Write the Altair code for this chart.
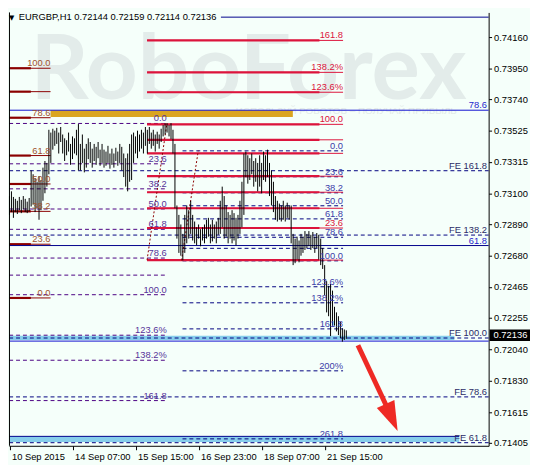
import altair as alt
import pandas as pd

# ---------------- data ----------------
# EURGBP H1 bars, bar index 0 = first bar at "10 Sep 2015" label
bar_high = [0.73082, 0.73114, 0.73076, 0.73063, 0.73050, 0.73076, 0.73056, 0.73082, 0.73063, 0.73044,
            0.73069, 0.73256, 0.73230, 0.73204, 0.73179, 0.73217, 0.73191, 0.73275, 0.73320, 0.73307,
            0.73532, 0.73513, 0.73539, 0.73526, 0.73545, 0.73513, 0.73551, 0.73500, 0.73474, 0.73461,
            0.73513, 0.73436, 0.73487, 0.73474, 0.73532, 0.73571, 0.73436, 0.73500, 0.73404, 0.73436,
            0.73474, 0.73449, 0.73404, 0.73436, 0.73416, 0.73449, 0.73397, 0.73436, 0.73397, 0.73384,
            0.73423, 0.73371, 0.73404, 0.73371, 0.73410, 0.73384, 0.73436, 0.73416, 0.73371, 0.73339,
            0.73371, 0.73436, 0.73500, 0.73513, 0.73487, 0.73526, 0.73500, 0.73532, 0.73513, 0.73551,
            0.73532, 0.73551, 0.73513, 0.73532, 0.73500, 0.73519, 0.73500, 0.73539, 0.73564, 0.73577,
            0.73577, 0.73564, 0.73577, 0.73532, 0.73436, 0.73018, 0.72954, 0.72889, 0.72825, 0.72954,
            0.73018, 0.72986, 0.73050, 0.72954, 0.72909, 0.72870, 0.72889, 0.72857, 0.72870, 0.72889,
            0.72921, 0.72934, 0.72889, 0.72921, 0.72889, 0.72909, 0.72934, 0.73050, 0.73146, 0.73082,
            0.73018, 0.72973, 0.72954, 0.72986, 0.72966, 0.72934, 0.72954, 0.73050, 0.73179, 0.73371,
            0.73384, 0.73359, 0.73339, 0.73371, 0.73320, 0.73339, 0.73307, 0.73359, 0.73307, 0.73384,
            0.73359, 0.73397, 0.73307, 0.73256, 0.73179, 0.73082, 0.73050, 0.73031, 0.73018, 0.73050,
            0.73018, 0.73037, 0.73018, 0.73018, 0.72825, 0.72793, 0.72806, 0.72780, 0.72825, 0.72806,
            0.72844, 0.72825, 0.72844, 0.72819, 0.72838, 0.72806, 0.72831, 0.72819, 0.72793, 0.72729,
            0.72613, 0.72504, 0.72472, 0.72485, 0.72440, 0.72330, 0.72292, 0.72266, 0.72228, 0.72183,
            0.72176, 0.72170]
bar_low = [0.72954, 0.72973, 0.72934, 0.72973, 0.72960, 0.72986, 0.72966, 0.72992, 0.72973, 0.72966,
           0.72979, 0.73011, 0.73024, 0.72973, 0.72999, 0.72921, 0.72986, 0.73050, 0.73101, 0.73146,
           0.73230, 0.73307, 0.73397, 0.73423, 0.73436, 0.73371, 0.73449, 0.73371, 0.73320, 0.73359,
           0.73384, 0.73294, 0.73333, 0.73371, 0.73359, 0.73256, 0.73256, 0.73307, 0.73243, 0.73275,
           0.73333, 0.73307, 0.73275, 0.73320, 0.73294, 0.73339, 0.73288, 0.73307, 0.73275, 0.73288,
           0.73307, 0.73268, 0.73294, 0.73275, 0.73320, 0.73288, 0.73307, 0.73256, 0.73211, 0.73146,
           0.73114, 0.73179, 0.73191, 0.73307, 0.73371, 0.73339, 0.73384, 0.73404, 0.73371, 0.73423,
           0.73371, 0.73436, 0.73404, 0.73423, 0.73384, 0.73436, 0.73404, 0.73449, 0.73487, 0.73500,
           0.73513, 0.73487, 0.73468, 0.73371, 0.72999, 0.72793, 0.72696, 0.72677, 0.72645, 0.72696,
           0.72761, 0.72793, 0.72825, 0.72780, 0.72761, 0.72748, 0.72793, 0.72741, 0.72780, 0.72761,
           0.72793, 0.72806, 0.72761, 0.72774, 0.72793, 0.72761, 0.72819, 0.72825, 0.72870, 0.72793,
           0.72806, 0.72761, 0.72793, 0.72761, 0.72780, 0.72748, 0.72793, 0.72825, 0.72870, 0.72954,
           0.73211, 0.73166, 0.73191, 0.73230, 0.73146, 0.73179, 0.73114, 0.73146, 0.73101, 0.73191,
           0.73179, 0.73211, 0.73082, 0.73018, 0.72973, 0.72921, 0.72909, 0.72921, 0.72909, 0.72921,
           0.72909, 0.72934, 0.72921, 0.72761, 0.72613, 0.72626, 0.72651, 0.72632, 0.72677, 0.72696,
           0.72716, 0.72729, 0.72741, 0.72716, 0.72729, 0.72696, 0.72729, 0.72651, 0.72613, 0.72587,
           0.72408, 0.72292, 0.72266, 0.72131, 0.72202, 0.72202, 0.72163, 0.72138, 0.72118, 0.72093,
           0.72105, 0.72112]

x_tick_index = [0, 32, 64, 96, 128, 160]
x_tick_labels = ["10 Sep 2015", "14 Sep 07:00", "15 Sep 15:00", "16 Sep 23:00", "18 Sep 07:00", "21 Sep 15:00"]
y_tick_values = [0.74160, 0.73950, 0.73740, 0.73525, 0.73315, 0.73100, 0.72890,
                 0.72680, 0.72465, 0.72255, 0.72040, 0.71830, 0.71615, 0.71405]

title_text = "EURGBP,H1  0.72144 0.72159 0.72114 0.72136"
last_price = 0.72136
last_box = [0.72175, 0.72097]

# dark-red retracement (left)
dr_labels = ["100.0", "", "78.6", "61.8", "50.0", "38.2", "23.6", "0.0"]
dr_prices = [0.73950, 0.73791, 0.73614, 0.73357, 0.73164, 0.72978, 0.72755, 0.72390]
dr_span = [-0.15, 20.85]
dr_ray_span = [-0.15, 10.85]

# crimson retracement (middle)
cr_labels = ["", "23.6", "", "", "", "", "", "100.0", "123.6%", "138.2%", "161.8"]
cr_prices = [0.72647, 0.72865, 0.72999, 0.73108, 0.73217, 0.73372, 0.73464,
             0.73569, 0.73787, 0.73922, 0.74139]
cr_span = [69.85, 169.35]
cr_ray_span = [69.85, 157.35]

# dashed retracement 1 (left, purple)
f1_labels = ["0.0", "23.6", "38.2", "50.0", "61.8", "78.6", "", "100.0", "123.6%", "138.2%", "161.8"]
f1_prices = [0.73575, 0.73301, 0.73131, 0.72994, 0.72856, 0.72661, 0.72545,
             0.72412, 0.72137, 0.71967, 0.71693]
f1_span = [-0.15, 79.85]

# dashed retracement 2 (right, navy)
f2_labels = ["0.0", "23.6", "38.2", "50.0", "61.8", "78.6", "", "100.0",
             "123.6%", "138.2%", "161.8", "200%", "261.8"]
f2_prices = [0.73389, 0.73213, 0.73104, 0.73016, 0.72927, 0.72802, 0.72727,
             0.72642, 0.72466, 0.72357, 0.72180, 0.71895, 0.71433]
f2_span = [87.85, 169.35]

# Fibonacci expansion (full width, dashed)
fe_labels = ["FE 161.8", "FE 138.2", "FE 100.0", "FE 78.6", "FE 61.8"]
fe_prices = [0.73254, 0.72817, 0.72118, 0.71718, 0.71407]
full_span = [-0.15, 243.25]
label_right = 242.4

# solid horizontal lines
blue_prices = [0.73665, 0.72097]
blue_labels = ["78.6", ""]
navy_prices = [0.74297, 0.72746, 0.71450]
navy_labels = ["", "61.8", ""]
navy_starts = [107.35, -0.15, -0.15]
navy_ends = [243.25, 243.25, 228.35]

# zones
gold_zone = {"x1": 20.85, "x2": 143.85, "y1": 0.73619, "y2": 0.73664}
sky_x1 = [-0.15, -0.15]
sky_x2 = [225.85, 228.35]
sky_y1 = [0.72105, 0.71411]
sky_y2 = [0.72133, 0.71450]

# dotted diagonals of the retracements
diag_id = ["a", "a", "b", "b"]
diag_x = [69.85, 79.85, 87.35, 95.85]
diag_y = [0.72647, 0.73569, 0.72645, 0.73391]

# forecast arrow
arrow_x = [176.9, 191.85]
arrow_y = [0.72069, 0.71643]
arrow_head = (194.0, 0.71578)

# watermark
wm_main = ("RoboForex", 121.35, 0.73738)
wm_sub = ("ИСПОЛЬЗУЙ РОБОТОВ – ПОЛУЧАЙ ПРИБЫЛЬ", 171.0, 0.73657)

# ---------------- chart ----------------
W, H = 487, 440
FONT = "Liberation Sans"
FS = 9.5
BG = "#F5FFFA"

# 2 px per bar, bar centres on half pixels so that the bars stay crisp
xs = alt.Scale(domain=[-0.25, 243.25], nice=False, zero=False)
ys = alt.Scale(domain=[0.71386, 0.74329], nice=False, zero=False)

label_js = "[" + ",".join("'%s'" % s for s in x_tick_labels) + "]"
xaxis = alt.Axis(values=x_tick_index, labelExpr=label_js + "[round(datum.value/32)]",
                 labelAlign="left", labelOffset=2, labelPadding=2, tickSize=4,
                 tickColor="black", domainColor="black", labelColor="black",
                 labelFont=FONT, labelFontSize=FS, grid=False, labelOverlap=False,
                 title=None, labelFlush=False)
yaxis = alt.Axis(orient="right", values=y_tick_values, format=".5f", tickSize=3,
                 labelPadding=2, grid=False, domainColor="black", tickColor="black",
                 labelColor="black", labelFont=FONT, labelFontSize=FS, title=None,
                 labelOverlap=False, labelFlush=False)


def X(f):
    return alt.X(f, type="quantitative", scale=xs, axis=xaxis)


def Y(f):
    return alt.Y(f, type="quantitative", scale=ys, axis=yaxis)


def hl(prices, x1, x2):
    n = len(prices)
    return pd.DataFrame({"x1": [x1] * n if not isinstance(x1, list) else x1,
                         "x2": [x2] * n if not isinstance(x2, list) else x2,
                         "y": prices})


def rules(df, color, width=1, dash=None):
    kw = dict(color=color, strokeWidth=width)
    if dash:
        kw["strokeDash"] = dash
    return alt.Chart(df).mark_rule(**kw).encode(x=X("x1"), x2="x2", y=Y("y"))


def labels(prices, texts, xr, color):
    df = pd.DataFrame({"x": [xr] * len(prices), "y": prices, "t": texts})
    df = df[df["t"] != ""]
    return alt.Chart(df).mark_text(align="right", baseline="alphabetic", dy=-2,
                                   font=FONT, fontSize=FS, color=color).encode(
        x=X("x"), y=Y("y"), text="t:N")


layers = []

# watermark
layers.append(alt.Chart(pd.DataFrame({"x": [wm_main[1]], "y": [wm_main[2]], "t": [wm_main[0]]}))
              .mark_text(font="Lato", fontWeight="bold", fontSize=92, color="#E3ECEA",
                         align="center", baseline="alphabetic")
              .encode(x=X("x"), y=Y("y"), text="t:N"))
layers.append(alt.Chart(pd.DataFrame({"x": [wm_sub[1]], "y": [wm_sub[2]], "t": [wm_sub[0]]}))
              .mark_text(font=FONT, fontSize=10, color="#E3EBE9", align="center", baseline="middle")
              .encode(x=X("x"), y=Y("y"), text="t:N"))

# zones
layers.append(alt.Chart(pd.DataFrame([gold_zone])).mark_rect(color="#DAA520")
              .encode(x=X("x1"), x2="x2", y=Y("y1"), y2="y2"))
layers.append(alt.Chart(pd.DataFrame({"x1": sky_x1, "x2": sky_x2, "y1": sky_y1, "y2": sky_y2}))
              .mark_rect(color="#87CEEB").encode(x=X("x1"), x2="x2", y=Y("y1"), y2="y2"))

# dashed levels
layers.append(rules(hl(f1_prices, *f1_span), "#4B0082", 1, [4, 3]))
layers.append(rules(hl(f2_prices, *f2_span), "#000080", 1, [4, 3]))
layers.append(rules(hl(fe_prices, *full_span), "#000080", 1, [4, 3]))

# crimson retracement
layers.append(rules(hl(cr_prices, *cr_span), "#DC143C", 1))
layers.append(rules(hl(cr_prices, *cr_ray_span), "#DC143C", 2.2))

# dark red retracement
layers.append(rules(hl(dr_prices, *dr_span), "#8B0000", 1))
layers.append(rules(hl(dr_prices, *dr_ray_span), "#8B0000", 2.2))

# solid lines
layers.append(rules(hl(blue_prices, *full_span), "#1010D0", 1))
layers.append(rules(hl(navy_prices, navy_starts, navy_ends), "#00008B", 1))

# left frame edge
layers.append(alt.Chart(pd.DataFrame({"a": [0]})).mark_rule(color="black")
              .encode(x=alt.value(0.5), y=alt.value(0), y2=alt.value(H)))

# dotted diagonals
layers.append(alt.Chart(pd.DataFrame({"id": diag_id, "x": diag_x, "y": diag_y}))
              .mark_line(color="#8B0000", strokeWidth=1, strokeDash=[2, 2])
              .encode(x=X("x"), y=Y("y"), detail="id:N"))

# price bars
bars = pd.DataFrame({"i": list(range(len(bar_high))), "hi": bar_high, "lo": bar_low})
layers.append(alt.Chart(bars).mark_rule(color="black", strokeWidth=1)
              .encode(x=X("i"), y=Y("hi"), y2="lo"))

# level labels
layers.append(labels(dr_prices, dr_labels, dr_span[1], "#A0522D"))
layers.append(labels(cr_prices, cr_labels, cr_span[1], "#DC143C"))
layers.append(labels(f1_prices, f1_labels, f1_span[1], "#553399"))
layers.append(labels(f2_prices, f2_labels, f2_span[1], "#3C3CA8"))
layers.append(labels(fe_prices, fe_labels, label_right, "#2B2B66"))
layers.append(labels(blue_prices, blue_labels, label_right, "#1E1ECD"))
layers.append(labels(navy_prices, navy_labels, label_right, "#1E1ECD"))

# arrow
layers.append(alt.Chart(pd.DataFrame({"x": arrow_x, "y": arrow_y, "o": [0, 1]}))
              .mark_line(color="#EE2A24", strokeWidth=5, strokeCap="butt")
              .encode(x=X("x"), y=Y("y"), order="o:Q"))
layers.append(alt.Chart(pd.DataFrame({"x": [arrow_head[0]], "y": [arrow_head[1]]}))
              .mark_point(shape="M0,1L-0.65,-1L0.65,-1Z", filled=True, size=900, angle=336,
                          color="#EE2A24", opacity=1, strokeWidth=0)
              .encode(x=X("x"), y=Y("y")))

# current price box
layers.append(alt.Chart(pd.DataFrame({"y1": [last_box[0]], "y2": [last_box[1]]}))
              .mark_rect(color="black")
              .encode(x=alt.value(W + 1), x2=alt.value(W + 42), y=Y("y1"), y2="y2"))
layers.append(alt.Chart(pd.DataFrame({"y": [last_price], "t": ["%.5f" % last_price]}))
              .mark_text(color="white", align="left", baseline="middle", font=FONT, fontSize=FS)
              .encode(x=alt.value(W + 5), y=Y("y"), text="t:N"))

# title
layers.append(alt.Chart(pd.DataFrame({"t": ["\u25BC"]}))
              .mark_text(color="black", align="left", baseline="top", font="DejaVu Sans", fontSize=7)
              .encode(x=alt.value(0), y=alt.value(2), text="t:N"))
layers.append(alt.Chart(pd.DataFrame({"t": [title_text]}))
              .mark_text(color="black", align="left", baseline="top", font=FONT, fontSize=FS)
              .encode(x=alt.value(10), y=alt.value(0), text="t:N"))

chart = (alt.layer(*layers)
         .properties(width=W, height=H, padding=0, background=BG)
         .configure_view(stroke=None, fill=BG))

chart.save("out.html", embed_options={"renderer": "svg", "actions": False})
